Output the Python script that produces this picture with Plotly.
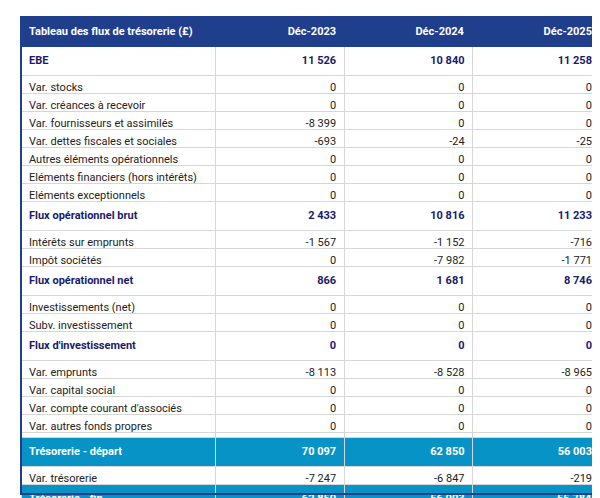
import plotly.graph_objects as go

title = "Tableau des flux de trésorerie (£)"
years = ["Déc-2023", "Déc-2024", "Déc-2025"]
labels = ["EBE", "Var. stocks", "Var. créances à recevoir", "Var. fournisseurs et assimilés",
          "Var. dettes fiscales et sociales", "Autres éléments opérationnels",
          "Eléments financiers (hors intérêts)", "Eléments exceptionnels",
          "Flux opérationnel brut", "Intérêts sur emprunts", "Impôt sociétés",
          "Flux opérationnel net", "Investissements (net)", "Subv. investissement",
          "Flux d'investissement", "Var. emprunts", "Var. capital social",
          "Var. compte courant d'associés", "Var. autres fonds propres", "Dividende",
          "Flux de financement", "Var. trésorerie"]
v2023 = [11526, 0, 0, -8399, -693, 0, 0, 0, 2433, -1567, 0, 866, 0, 0, 0, -8113, 0, 0, 0, 0, -8113, -7247]
v2024 = [10840, 0, 0, 0, -24, 0, 0, 0, 10816, -1152, -7982, 1681, 0, 0, 0, -8528, 0, 0, 0, 0, -8528, -6847]
v2025 = [11258, 0, 0, 0, -25, 0, 0, 0, 11233, -716, -1771, 8746, 0, 0, 0, -8965, 0, 0, 0, 0, -8965, -219]
kinds = ["bold", "n", "n", "n", "n", "n", "n", "n", "bold", "n", "n", "bold", "n", "n", "bold",
         "n", "n", "n", "n", "n", "bold", "hl"]

labels2 = ["Trésorerie - départ", "Var. trésorerie", "Trésorerie - fin"]
w2023 = [70097, -7247, 62850]
w2024 = [62850, -6847, 56003]
w2025 = [56003, -219, 55784]
kinds2 = ["hl", "n", "hl"]

DARK = "#1f3e8c"
NAVY = "#1a1a6b"
HL = "#0893c6"
GRID = "#d6d6d6"

def fmt(v):
    s = f"{abs(v):,}".replace(",", " ")
    return ("-" if v < 0 else "") + s

def wrap(t, k):
    return f"<b>{t}</b>" if k in ("bold", "hl") else t

def cols(lbls, a, b, c, ks):
    out = [[wrap(l, k) for l, k in zip(lbls, ks)]]
    for arr in (a, b, c):
        out.append([wrap(fmt(v), k) for v, k in zip(arr, ks)])
    return out

def fills(ks):
    return [HL if k == "hl" else "white" for k in ks]

def fcol(ks):
    return ["white" if k == "hl" else (NAVY if k == "bold" else "#222222") for k in ks]

x0, x1 = 13 / 600, 592 / 600
widths = [194, 128, 128, 127]
F = "Roboto"

fig = go.Figure()
fig.add_trace(go.Table(
    domain=dict(x=[x0, x1], y=[0, 1 - 9 / 498]),
    columnwidth=widths,
    header=dict(values=[f"<b>{title}</b>"] + [f"<b>{y}</b>" for y in years],
                fill_color=DARK, line=dict(color=DARK, width=1),
                font=dict(color="white", size=11, family=F),
                align=["left", "right", "right", "right"], height=19),
    cells=dict(values=cols(labels, v2023, v2024, v2025, kinds),
               fill_color=[fills(kinds)] * 4,
               font=dict(color=[fcol(kinds)] * 4, size=11, family=F),
               line=dict(color=GRID, width=1),
               align=["left", "right", "right", "right"], height=18),
))
fig.add_trace(go.Table(
    domain=dict(x=[x0, x1], y=[0, 1 - 429 / 498]),
    columnwidth=widths,
    header=dict(values=[""] * 4, height=0, fill_color="white", line=dict(width=0)),
    cells=dict(values=cols(labels2, w2023, w2024, w2025, kinds2),
               fill_color=[fills(kinds2)] * 4,
               font=dict(color=[fcol(kinds2)] * 4, size=11, family=F),
               line=dict(color=GRID, width=1),
               align=["left", "right", "right", "right"], height=18),
))
fig.add_shape(type="rect", xref="paper", yref="paper", x0=x0, x1=x1,
              y0=1 - 486 / 498, y1=1 - 9 / 498, line=dict(color=DARK, width=2))
fig.update_layout(width=600, height=498, margin=dict(l=0, r=0, t=0, b=0),
                  paper_bgcolor="white", plot_bgcolor="white")
fig.write_html("out.html")
